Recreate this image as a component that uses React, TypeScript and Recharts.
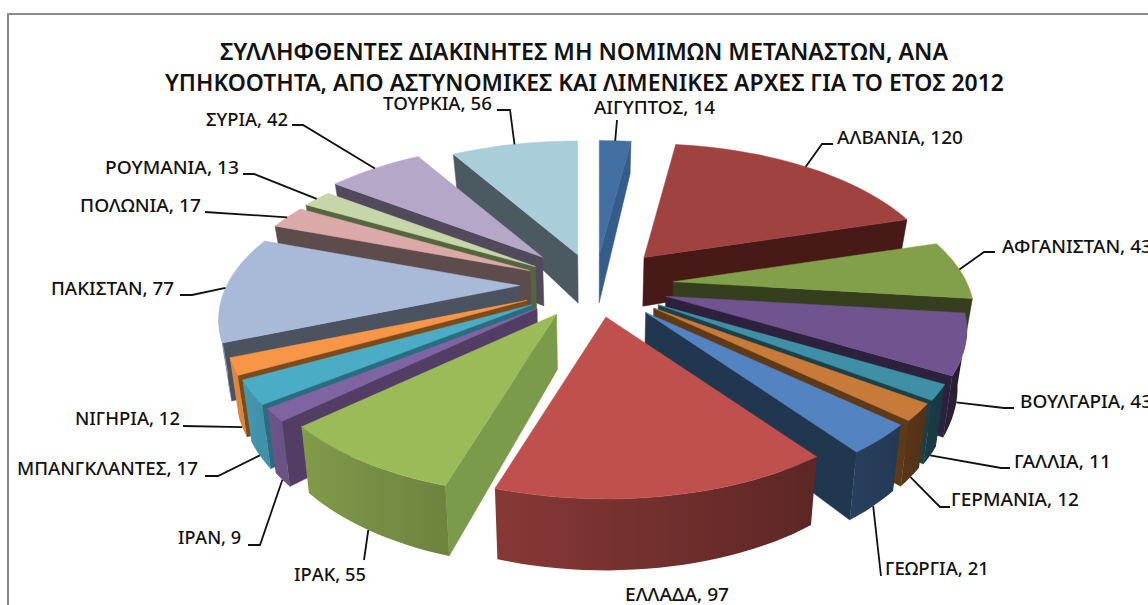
// App.tsx - exploded 3D pie, drawn as a flat Recharts Pie with a custom projected shape
import { PieChart, Pie } from "recharts";

const COUNTRIES = [
  "ΑΙΓΥΠΤΟΣ", "ΑΛΒΑΝΙΑ", "ΑΦΓΑΝΙΣΤΑΝ", "ΒΟΥΛΓΑΡΙΑ", "ΓΑΛΛΙΑ", "ΓΕΡΜΑΝΙΑ",
  "ΓΕΩΡΓΙΑ", "ΕΛΛΑΔΑ", "ΙΡΑΚ", "ΙΡΑΝ", "ΜΠΑΝΓΚΛΑΝΤΕΣ", "ΝΙΓΗΡΙΑ",
  "ΠΑΚΙΣΤΑΝ", "ΠΟΛΩΝΙΑ", "ΡΟΥΜΑΝΙΑ", "ΣΥΡΙΑ", "ΤΟΥΡΚΙΑ",
];
const COUNTS = [14, 120, 43, 43, 11, 12, 21, 97, 55, 9, 17, 12, 77, 17, 13, 42, 56];

const TITLE_LINES = [
  "ΣΥΛΛΗΦΘΕΝΤΕΣ ΔΙΑΚΙΝΗΤΕΣ ΜΗ ΝΟΜΙΜΩΝ ΜΕΤΑΝΑΣΤΩΝ, ΑΝΑ",
  "ΥΠΗΚΟΟΤΗΤΑ, ΑΠΟ ΑΣΤΥΝΟΜΙΚΕΣ ΚΑΙ ΛΙΜΕΝΙΚΕΣ ΑΡΧΕΣ ΓΙΑ ΤΟ ΕΤΟΣ 2012",
];

// styles, per slice
const TOP_COLORS = [
  "#436fa3", "#a04340", "#82a04a", "#6f5490", "#3f8fa6", "#c87a38", "#5383c0", "#c0504d", "#9bbb59",
  "#8064a2", "#4bacc6", "#f79646", "#a9bad8", "#dba9a8", "#c6d6a8", "#b4a7c8", "#a9ced9",
];
const CUT_COLORS = [
  "#365d8a", "#471a18", "#353f1e", "#2d213d", "#1d4048", "#5f3a18", "#213750", "#7a3533", "#7b9a4a",
  "#533d65", "#2a6d80", "#7d4a1c", "#4b5260", "#5e4b4b", "#55653f", "#514a5c", "#4b5a60",
];
const EXPLODE = [0.23, 0.27, 0.27, 0.25, 0.25, 0.25, 0.25, 0.22, 0.235, 0.25, 0.25, 0.25, 0.257, 0.25, 0.25, 0.28, 0.235];

// label text box (left, middle y, width) and the leader's fixed points, the end comes from the slice
const LABEL_LAYOUT: { x: number; y: number; w: number; leader: number[][] }[] = [
  { x: 594, y: 108, w: 121, leader: [[617, 120]] },
  { x: 837, y: 138, w: 126, leader: [[833, 144], [822, 144]] },
  { x: 1002, y: 247, w: 150, leader: [[995, 252], [984, 252]] },
  { x: 1020, y: 402, w: 132, leader: [[1014, 408], [1004, 408]] },
  { x: 1014, y: 462, w: 97, leader: [[1010, 468], [1001, 468]] },
  { x: 951, y: 500, w: 128, leader: [[950, 507], [940, 507]] },
  { x: 885, y: 569, w: 104, leader: [[881, 576]] },
  { x: 625, y: 595, w: 104, leader: [] },
  { x: 294, y: 575, w: 72, leader: [[364, 560]] },
  { x: 178, y: 538, w: 63, leader: [[248, 545], [260, 545]] },
  { x: 17, y: 469, w: 181, leader: [[205, 476], [218, 476]] },
  { x: 75, y: 419, w: 105, leader: [[183, 426]] },
  { x: 51, y: 289, w: 123, leader: [[180, 295], [192, 295]] },
  { x: 80, y: 206, w: 121, leader: [[205, 212]] },
  { x: 105, y: 168, w: 134, leader: [[243, 174], [254, 174]] },
  { x: 206, y: 120, w: 82, leader: [[292, 125], [303, 125]] },
  { x: 383, y: 104, w: 109, leader: [[497, 110], [510, 110]] },
];

const rows = COUNTRIES.map((name, order) => ({ name, value: COUNTS[order], order }));
const LAST_RIGHT = 7; // slices up to here paint clockwise, the others back to front on the left

const WIDTH = 1148;
const HEIGHT = 605;
const CX = 595;
const CY = 285;
const RADIUS = 293;
const TILT = 0.478;
const PERSPECTIVE_X = 0.23;
const PERSPECTIVE_Y = 0.23;
const FONT = "'Noto Sans', sans-serif";

type Pt = { x: number; y: number; depthY: number };

const rad = (deg: number) => (deg * Math.PI) / 180;

// offset on screen of a point at radius r (1 = rim) and clockwise angle theta from north
function project(r: number, theta: number, radius: number) {
  const X = r * Math.sin(rad(theta));
  const Y = -r * Math.cos(rad(theta));
  return {
    x: (radius * X) / (1 - PERSPECTIVE_X * Y),
    y: (radius * TILT * Y) / (1 - PERSPECTIVE_Y * Y),
    Y,
  };
}

function tipOf(order: number, mid: number, cx: number, cy: number, radius: number): Pt {
  const e = project(EXPLODE[order], mid, radius);
  return { x: cx + e.x, y: cy + e.y, depthY: e.Y };
}

function rimOf(tip: Pt, theta: number, radius: number): Pt {
  const p = project(1, theta, radius);
  return { x: tip.x + p.x, y: tip.y + p.y, depthY: tip.depthY + p.Y };
}

// point on the underside, below a top-face point
function under(p: Pt): Pt {
  return { x: CX + 0.975 * (p.x - CX), y: p.y + 52 + 16 * p.depthY, depthY: p.depthY };
}

const pts = (list: Pt[]) => list.map((p) => `${p.x.toFixed(1)},${p.y.toFixed(1)}`).join(" ");

function shade(hex: string, f: number) {
  const n = parseInt(hex.slice(1), 16);
  const c = [n >> 16, (n >> 8) & 255, n & 255].map((v) => Math.round(v * f));
  return `rgb(${c[0]},${c[1]},${c[2]})`;
}

function rimShade(theta: number) {
  const t = Math.min(1, Math.max(0, (theta - 100) / 145));
  return 0.3 + 0.6 * t;
}

function thetaRange(startAngle: number, endAngle: number) {
  let lo = Math.min(90 - startAngle, 90 - endAngle);
  let hi = Math.max(90 - startAngle, 90 - endAngle);
  if (lo < 0) {
    lo += 360;
    hi += 360;
  }
  return [lo, hi];
}

function Wedge(props: any) {
  const order: number = props.payload?.order ?? props.order;
  const right = order <= LAST_RIGHT;
  if (right !== props.rightHalf) return null;
  const [lo, hi] = thetaRange(props.startAngle, props.endAngle);
  const radius = props.outerRadius;
  const tip = tipOf(order, (lo + hi) / 2, props.cx, props.cy, radius);
  const top = TOP_COLORS[order];
  const cut = CUT_COLORS[order];

  const rim: Pt[] = [];
  const thetas: number[] = [];
  const steps = Math.max(2, Math.ceil((hi - lo) / 2));
  for (let i = 0; i <= steps; i++) {
    thetas.push(lo + ((hi - lo) * i) / steps);
    rim.push(rimOf(tip, thetas[i], radius));
  }

  const walls = [];
  const startEdge = rim[0];
  const endEdge = rim[rim.length - 1];
  if (startEdge.x < tip.x) {
    walls.push(
      <polygon key="a" points={pts([tip, startEdge, under(startEdge), under(tip)])} fill={cut} stroke={cut} strokeWidth={0.5} />
    );
  }
  if (tip.x < endEdge.x) {
    walls.push(
      <polygon key="b" points={pts([endEdge, tip, under(tip), under(endEdge)])} fill={cut} stroke={cut} strokeWidth={0.5} />
    );
  }

  // outer wall: the stretch of rim that faces the viewer, one polygon with a horizontal gradient
  const front = rim.map((_, i) => i).filter((i) => (i < steps && rim[i + 1].x < rim[i].x) || (i > 0 && rim[i].x < rim[i - 1].x));
  let gradient = null;
  if (front.length > 1) {
    const first = rim[front[0]];
    const last = rim[front[front.length - 1]];
    const id = `rim-${order}`;
    gradient = (
      <linearGradient id={id} gradientUnits="userSpaceOnUse" x1={first.x} y1={0} x2={last.x} y2={0}>
        {front.map((i, n) => (
          <stop key={i} offset={n / (front.length - 1)} stopColor={shade(top, rimShade(thetas[i]))} />
        ))}
      </linearGradient>
    );
    const ring = [...front.map((i) => rim[i]), ...front.map((i) => under(rim[i])).reverse()];
    walls.push(<polygon key="rim" points={pts(ring)} fill={`url(#${id})`} />);
  }
  return (
    <g>
      {gradient && <defs>{gradient}</defs>}
      {walls}
      <polygon points={pts([tip, ...rim])} fill={top} stroke={top} strokeWidth={0.5} />
    </g>
  );
}

function SliceLabel(props: any) {
  const order: number = props.payload?.order ?? props.order;
  const right = order <= LAST_RIGHT;
  if (right !== props.rightHalf) return null;
  const layout = LABEL_LAYOUT[order];
  const mid = ((90 - props.midAngle) % 360 + 360) % 360;
  const tip = tipOf(order, mid, props.cx, props.cy, props.outerRadius);
  const rim = rimOf(tip, mid, props.outerRadius);
  const end = mid > 100 && mid < 265 ? under(rim) : rim;
  const line = [...layout.leader.map(([x, y]) => ({ x, y, depthY: 0 })), end];
  return (
    <g>
      {layout.leader.length > 0 && <polyline points={pts(line)} fill="none" stroke="#111" strokeWidth={1.8} />}
      <text
        x={layout.x}
        y={layout.y + 6}
        textLength={layout.w}
        lengthAdjust="spacingAndGlyphs"
        fontFamily={FONT}
        fontSize={17.5}
        fontWeight={500}
        fill="#111"
      >
        {`${COUNTRIES[order]}, ${COUNTS[order]}`}
      </text>
    </g>
  );
}

export default function App() {
  return (
    <div style={{ position: "absolute", left: 0, top: 0, width: WIDTH, height: HEIGHT, overflow: "hidden", background: "#fff" }}>
      {/* chart frame, cut off by the crop on the right and at the bottom */}
      <div
        style={{
          position: "absolute",
          left: 7,
          top: 13,
          width: WIDTH,
          height: HEIGHT,
          borderLeft: "2.5px solid #8a8a8a",
          borderTop: "2.5px solid #8a8a8a",
        }}
      />
      <div style={{ position: "absolute", left: 0, top: 0 }}>
        <PieChart width={WIDTH} height={HEIGHT} margin={{ top: 0, right: 0, bottom: 0, left: 0 }}>
          <text x={220} y={60} textLength={728} lengthAdjust="spacingAndGlyphs" fontFamily={FONT} fontSize={23} fontWeight={600} fill="#111">
            {TITLE_LINES[0]}
          </text>
          <text x={165} y={91} textLength={839} lengthAdjust="spacingAndGlyphs" fontFamily={FONT} fontSize={23} fontWeight={600} fill="#111">
            {TITLE_LINES[1]}
          </text>
          <Pie
            data={rows}
            dataKey="value"
            nameKey="name"
            cx={CX}
            cy={CY}
            innerRadius={0}
            outerRadius={RADIUS}
            startAngle={90}
            endAngle={-270}
            isAnimationActive={false}
            shape={(p: any) => <Wedge {...p} rightHalf={true} />}
            label={(p: any) => <SliceLabel {...p} rightHalf={true} />}
            labelLine={false}
          />
          <Pie
            data={[...rows].reverse()}
            dataKey="value"
            nameKey="name"
            cx={CX}
            cy={CY}
            innerRadius={0}
            outerRadius={RADIUS}
            startAngle={90}
            endAngle={450}
            isAnimationActive={false}
            shape={(p: any) => <Wedge {...p} rightHalf={false} />}
            label={(p: any) => <SliceLabel {...p} rightHalf={false} />}
            labelLine={false}
          />
        </PieChart>
      </div>
    </div>
  );
}
